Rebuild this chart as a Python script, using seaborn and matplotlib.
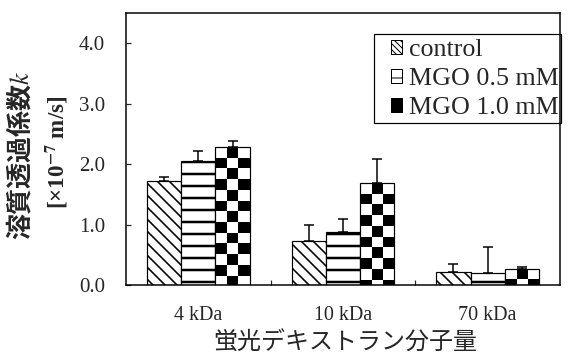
import numpy as np
import pandas as pd
import seaborn as sns
import matplotlib.pyplot as plt
from matplotlib.patches import Patch, Rectangle

# ---------------------------------------------------------
# data
# ---------------------------------------------------------
categories = ["4 kDa", "10 kDa", "70 kDa"]
groups = ["control", "MGO 0.5 mM", "MGO 1.0 mM"]

control = [1.72, 0.72, 0.22]
control_err = [0.06, 0.27, 0.12]
mgo_05 = [2.05, 0.87, 0.20]
mgo_05_err = [0.16, 0.23, 0.43]
mgo_10 = [2.28, 1.68, 0.27]
mgo_10_err = [0.11, 0.41, 0.03]

values = {"control": control, "MGO 0.5 mM": mgo_05, "MGO 1.0 mM": mgo_10}
errors = {"control": control_err, "MGO 0.5 mM": mgo_05_err, "MGO 1.0 mM": mgo_10_err}

rows = []
for g in groups:
    for c, v in zip(categories, values[g]):
        rows.append({"size": c, "k": v, "cond": g})
df = pd.DataFrame(rows)

# ---------------------------------------------------------
# plot
# ---------------------------------------------------------
sns.set_style("ticks")
plt.rcParams["font.family"] = ["Liberation Serif", "Noto Sans CJK JP"]
plt.rcParams["mathtext.fontset"] = "stix"
plt.rcParams["hatch.color"] = "black"

fig = plt.figure(figsize=(568 / 72, 356 / 72), dpi=72)
ax = fig.add_axes([126 / 568, 71 / 356, 434 / 568, 272 / 356])

sns.barplot(data=df, x="size", y="k", hue="cond", hue_order=groups,
            palette=["white"] * 3, edgecolor="black", linewidth=1.2,
            width=0.71, errorbar=None, legend=False, ax=ax)

ax.set_ylim(0, 4.5)
ax.set_xlim(-0.5, 2.5)

bars = sorted(ax.patches, key=lambda p: p.get_x())
ppu = ax.transData.transform((0, 1))[1] - ax.transData.transform((0, 0))[1]
sq = 10.7 / ppu

for i, p in enumerate(bars):
    g = groups[i % 3]
    c = i // 3
    x0, w, h = p.get_x(), p.get_width(), p.get_height()
    if g == "control":
        p.set_hatch("\\\\")
        if hasattr(p, "set_hatch_linewidth"):
            p.set_hatch_linewidth(1.6)
    elif g == "MGO 0.5 mM":
        p.set_hatch("-")
        if hasattr(p, "set_hatch_linewidth"):
            p.set_hatch_linewidth(2.5)
    else:
        # checkerboard fill, clipped to the bar
        n = int(np.ceil(h / sq))
        board = np.indices((n, 3)).sum(axis=0) % 2
        im = ax.imshow(board, cmap="gray_r", vmin=0, vmax=1, aspect="auto",
                       interpolation="nearest", origin="upper",
                       extent=[x0, x0 + w, h - n * sq, h], zorder=1.5)
        im.set_clip_path(p)
        p.set_facecolor("none")
        p.set_zorder(2)
    ax.errorbar(x0 + w / 2, h, yerr=[[0], [errors[g][c]]], fmt="none",
                ecolor="black", elinewidth=1.5, capsize=5, capthick=1.5, zorder=3)

ax.set_ylim(0, 4.5)
ax.set_xlim(-0.5, 2.5)

ax.set_yticks([0, 1, 2, 3, 4])
ax.set_yticklabels([f"{t:.1f}" for t in [0, 1, 2, 3, 4]])
ax.set_xticks([0, 1, 2])
ax.set_xticks([0.5, 1.5], minor=True)
ax.tick_params(axis="x", which="major", length=0, pad=21, labelsize=20)
ax.tick_params(axis="x", which="minor", direction="in", length=5, width=1.2)
ax.tick_params(axis="y", direction="in", length=5, width=1.2, pad=21, labelsize=21)
for s in ax.spines.values():
    s.set_visible(True)
    s.set_linewidth(1.5)
    s.set_color("black")

ax.set_xlabel("")
ax.set_ylabel("")
fig.text(345 / 568, 1 - 343 / 356, "蛍光デキストラン分子量", ha="center", va="center",
         fontsize=24, family=["Noto Sans CJK JP"])
fig.text(20 / 568, 1 - 155 / 356, r"溶質透過係数$\mathit{k}$", rotation=90,
         ha="center", va="center", fontsize=26, fontweight="bold",
         family=["Noto Sans CJK JP", "DejaVu Sans"])
fig.text(57 / 568, 1 - 152 / 356, r"[×10$^{\mathbf{-7}}$ m/s]", rotation=90,
         ha="center", va="center", fontsize=23, fontweight="bold",
         family=["Liberation Serif", "DejaVu Sans"])

handles = [
    Patch(facecolor="white", edgecolor="black", hatch="\\\\\\\\", linewidth=1),
    Patch(facecolor="white", edgecolor="black", hatch="-", linewidth=1),
    Patch(facecolor="black", edgecolor="black", linewidth=1),
]
leg = ax.legend(handles, groups, loc="upper right", bbox_to_anchor=(0.997, 0.905),
                frameon=False, fontsize=26, handlelength=0.45, handleheight=0.45,
                handletextpad=0.25, labelspacing=0.27, borderpad=0, borderaxespad=0)

# box around the legend, a bit wider on the left like the original
fig.canvas.draw()
bb = leg.get_window_extent().transformed(fig.transFigure.inverted())
fw, fh = 568, 356
fig.add_artist(Rectangle((bb.x0 - 17 / fw, bb.y0 - 4 / fh),
                         bb.width + 19 / fw, bb.height + 9 / fh,
                         transform=fig.transFigure, facecolor="none",
                         edgecolor="black", linewidth=1.2, zorder=5))

fig.savefig("out.png", dpi=72)
